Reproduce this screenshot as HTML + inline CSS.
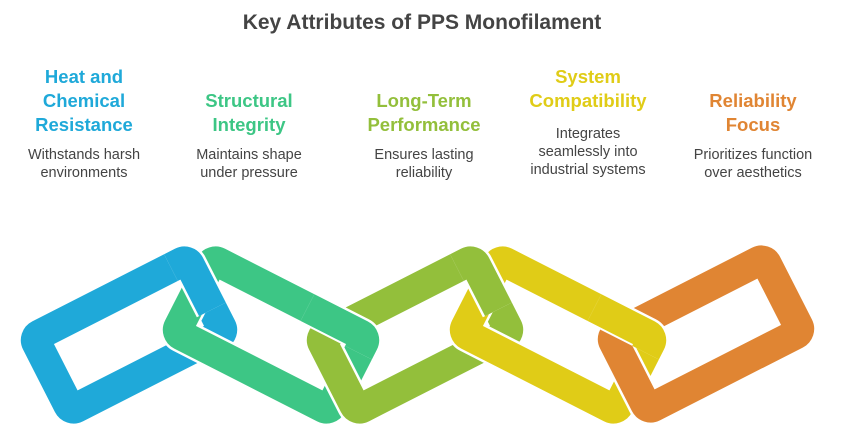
<!DOCTYPE html>
<html><head><meta charset="utf-8"><style>
body{margin:0;width:844px;height:448px;background:#fff;position:relative;overflow:hidden;font-family:"Liberation Sans",sans-serif}
.t{position:absolute;left:0;width:844px;top:11px;text-align:center;font-weight:bold;font-size:21px;color:#444}
.c{position:absolute;width:170px;text-align:center}
.h{font-weight:bold;font-size:18.5px;line-height:24px}
.b{font-size:14.5px;line-height:18px;color:#444;margin-top:9px}
svg{position:absolute;left:0;top:0}
</style></head><body>
<div class="t">Key Attributes of PPS Monofilament</div>
<div class="c" style="left:-1px;top:65px"><div class="h" style="color:#1fa9d9">Heat and<br>Chemical<br>Resistance</div><div class="b">Withstands harsh<br>environments</div></div>
<div class="c" style="left:164px;top:89px"><div class="h" style="color:#3dc685">Structural<br>Integrity</div><div class="b">Maintains shape<br>under pressure</div></div>
<div class="c" style="left:339px;top:89px"><div class="h" style="color:#93bf3b">Long-Term<br>Performance</div><div class="b">Ensures lasting<br>reliability</div></div>
<div class="c" style="left:503px;top:65px"><div class="h" style="color:#e0cc17">System<br>Compatibility</div><div class="b" style="margin-top:12px">Integrates<br>seamlessly into<br>industrial systems</div></div>
<div class="c" style="left:668px;top:89px"><div class="h" style="color:#e08533">Reliability<br>Focus</div><div class="b">Prioritizes function<br>over aesthetics</div></div>
<svg width="844" height="448">
<defs>
<rect id="L" x="-86" y="-41" width="172" height="82" rx="6"/>
<clipPath id="cp" clipPathUnits="userSpaceOnUse"><rect x="68" y="-70" width="52" height="85"/></clipPath>
<clipPath id="cq" clipPathUnits="userSpaceOnUse"><rect x="20" y="-70" width="100" height="46"/></clipPath>
<g id="b"><use href="#L" stroke="#fff" stroke-width="35"/><use href="#L" stroke="#1fa9d9" stroke-width="30"/></g>
<g id="g"><use href="#L" stroke="#fff" stroke-width="35"/><use href="#L" stroke="#3dc685" stroke-width="30"/></g>
<g id="o"><use href="#L" stroke="#fff" stroke-width="35"/><use href="#L" stroke="#93bf3b" stroke-width="30"/></g>
<g id="y"><use href="#L" stroke="#fff" stroke-width="35"/><use href="#L" stroke="#e0cc17" stroke-width="30"/></g>
<g id="r"><use href="#L" stroke="#fff" stroke-width="35"/><use href="#L" stroke="#e08533" stroke-width="30"/></g>
</defs>
<g fill="none">
<g transform="translate(129,335) rotate(-27)"><use href="#b"/></g>
<g transform="translate(271,335) rotate(27)"><use href="#g"/></g>
<g transform="translate(415,335) rotate(-27)"><use href="#o"/></g>
<g transform="translate(558,335) rotate(27)"><use href="#y"/></g>
<g transform="translate(706,334) rotate(-27)"><use href="#r"/></g>
<g transform="translate(129,335) rotate(-27)"><g clip-path="url(#cp)"><use href="#b"/></g></g>
<g transform="translate(271,335) rotate(27)"><g clip-path="url(#cq)"><use href="#g"/></g></g>
<g transform="translate(415,335) rotate(-27)"><g clip-path="url(#cp)"><use href="#o"/></g></g>
<g transform="translate(558,335) rotate(27)"><g clip-path="url(#cq)"><use href="#y"/></g></g>
</g>
</svg>
</body></html>
